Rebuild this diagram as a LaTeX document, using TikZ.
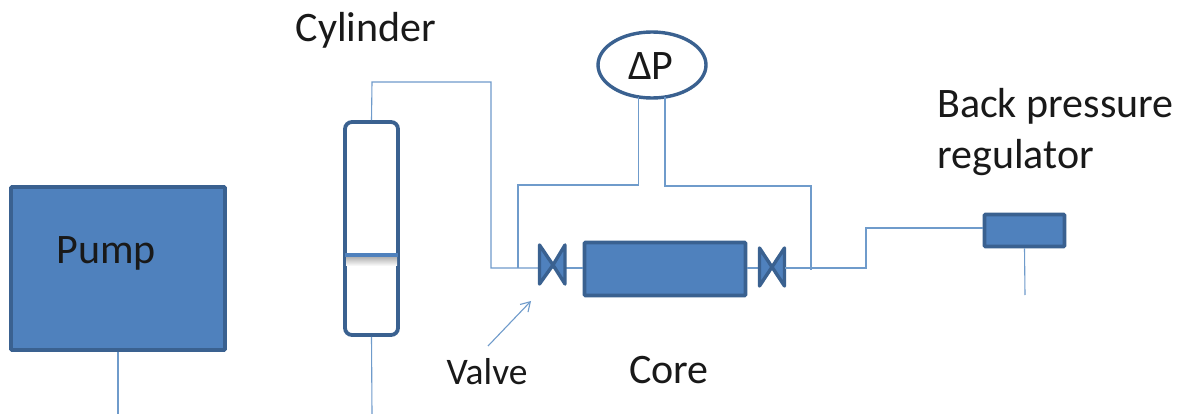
\documentclass[tikz,border=0pt]{standalone}
\usepackage{fontspec}
\usetikzlibrary{shapes.geometric,arrows.meta}
\setmainfont{Carlito}
\definecolor{fillb}{HTML}{4F81BD}
\definecolor{edgeb}{HTML}{3A6190}
\definecolor{lineb}{HTML}{6F9BCB}
\tikzset{
 box/.style={draw=edgeb,fill=fillb,line width=3.6pt,inner sep=0pt,anchor=center,rounded corners=1pt},
 pipe/.style={draw=lineb,line width=1.1pt},
 lbl/.style={font=\fontsize{42}{48}\selectfont,text=black!90,inner sep=0pt},
 valvehalf/.style={draw=edgeb,fill=fillb,line width=3.4pt,line join=round}
}
\begin{document}
\begin{tikzpicture}[x=1pt,y=-1pt]
\useasboundingbox (0,0) rectangle (1184,414);
\fill[white] (0,0) rectangle (1184,414);
% pump
\node[box,minimum width=214pt,minimum height=163pt] (pump) at (118,268.5) {};
\node[lbl] (pumpl) at (106,253) {Pump};
\coordinate (pumpend) at (118,414);
\draw[pipe] (pump.south) -- (pumpend);
% cylinder
\node[draw=edgeb,fill=white,line width=3.8pt,rounded corners=7pt,minimum width=53pt,minimum height=213pt,inner sep=0pt] (cyl) at (371.5,228.5) {};
\shade[top color=black!30,bottom color=white] (346,257) rectangle (397,266);
\draw[draw=fillb,line width=3.4pt] (345,255) -- (398,255);
\node[lbl] (cyll) at (366,30) {Cylinder};
\coordinate (cylend) at (372,414);
\draw[pipe] (cyl.south) -- (cylend);
% upstream line
\coordinate (va) at (553,268);
\coordinate (vb) at (772,268);
\draw[pipe] (cyl.north) -- (372,82) -- (491,82) -- (491,268) -- (va);
% core
\node[box,minimum width=161pt,minimum height=53pt] (core) at (665,269) {};
\node[lbl] (corel) at (669,370) {Core};
\draw[pipe] (va) -- (core.west |- va);
\draw[pipe] (core.east |- vb) -- (vb);
% valve shapes
\draw[valvehalf] (539.5,245) -- (553,265) -- (539.5,284) -- cycle;
\draw[valvehalf] (565,245) -- (553,265) -- (565,284) -- cycle;
\draw[valvehalf] (759.5,248) -- (772,267) -- (759.5,286) -- cycle;
\draw[valvehalf] (784.5,248) -- (772,267) -- (784.5,286) -- cycle;
% dP
\node[draw=edgeb,fill=white,line width=3.4pt,ellipse,minimum width=108pt,minimum height=66pt,inner sep=0pt] (dp) at (652,65) {};
\node[lbl] (dpl) at (651,66) {ΔP};
\draw[pipe] (638.5,97) -- (638.5,185) -- (518,185) -- (518,268);
\draw[pipe] (665,97) -- (665,186) -- (811,186) -- (811,270);
% outlet
\node[box,minimum width=80pt,minimum height=32pt] (bpr) at (1024.5,230.5) {};
\draw[pipe] (785,268) -- (866,268) -- (866,228) -- (bpr.west |- 0,228);
\coordinate (bprend) at (1025,295);
\draw[pipe] (bpr.south) -- (bprend);
\node[lbl,anchor=west] (bp1) at (937,106) {Back pressure};
\node[lbl,anchor=west] (bp2) at (937,158) {regulator};
% valve label
\node[lbl,font=\fontsize{37.5}{42}\selectfont] (vl) at (487,372) {Valve};
\coordinate (vtip) at (531,301);
\draw[pipe,-{Straight Barb[length=9pt,width=11pt]}] (488,346) -- (vtip);
\end{tikzpicture}
\end{document}
